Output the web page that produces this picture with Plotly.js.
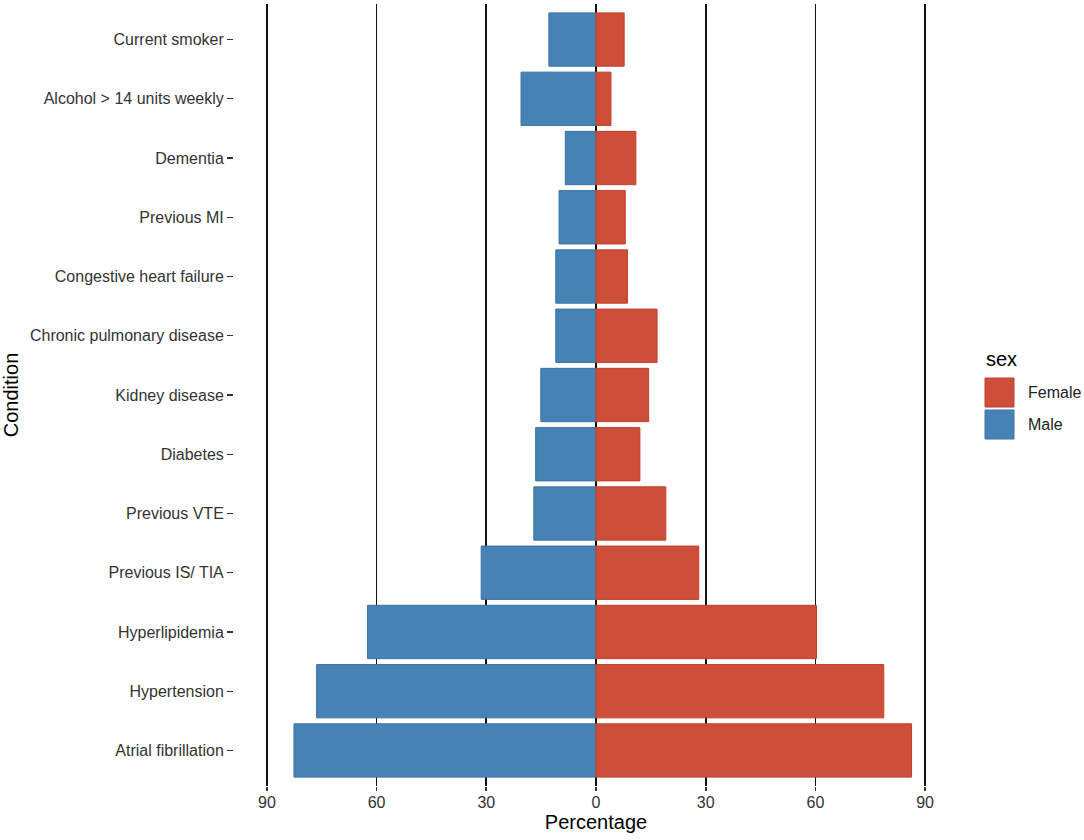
<!DOCTYPE html>
<html>
<head>
<meta charset="utf-8">
<script src="https://cdn.plot.ly/plotly-3.0.1.min.js"></script>
<style>
  html, body { margin: 0; padding: 0; background: #fff; }
  #chart { width: 1084px; height: 840px; }
</style>
</head>
<body>
<div id="chart"></div>
<script>
// conditions, listed top to bottom as in the figure
var conditions = [
  'Current smoker',
  'Alcohol > 14 units weekly',
  'Dementia',
  'Previous MI',
  'Congestive heart failure',
  'Chronic pulmonary disease',
  'Kidney disease',
  'Diabetes',
  'Previous VTE',
  'Previous IS/ TIA',
  'Hyperlipidemia',
  'Hypertension',
  'Atrial fibrillation'
];

// percentages
var femalePct = [7.7, 4.1, 10.9, 8.0, 8.6, 16.7, 14.4, 12.0, 19.1, 28.1, 60.3, 78.7, 86.3];
var malePct = [12.9, 20.5, 8.4, 10.1, 11.0, 11.0, 15.1, 16.5, 17.0, 31.4, 62.5, 76.4, 82.6];

var tickVals = [-90, -60, -30, 0, 30, 60, 90];
var tickText = ['90', '60', '30', '0', '30', '60', '90'];

var femaleColor = '#CD4F39';
var maleColor = '#4682B4';

function buildChart() {
  var female = {
    type: 'bar',
    orientation: 'h',
    name: 'Female',
    y: conditions,
    x: femalePct,
    width: 0.9,
    marker: { color: femaleColor, line: { color: '#C63F2B', width: 1 } },
    showlegend: false,
    hovertemplate: '%{y}: %{x}%<extra>Female</extra>'
  };

  var male = {
    type: 'bar',
    orientation: 'h',
    name: 'Male',
    y: conditions,
    // male side drawn to the left of zero
    x: malePct.map(function (v) { return -v; }),
    customdata: malePct,
    width: 0.9,
    marker: { color: maleColor, line: { color: '#3A72A8', width: 1 } },
    showlegend: false,
    hovertemplate: '%{y}: %{customdata}%<extra>Male</extra>'
  };

  // panel box in pixels, used to place the legend keys
  var L = 234, R = 126, T = 4, B = 54;
  var W = 1084 - L - R, H = 840 - T - B;
  function px(x) { return (x - L) / W; }
  function py(y) { return (840 - B - y) / H; }

  var keys = [
    { label: 'Female', color: femaleColor, line: '#C63F2B', top: 378, bottom: 407 },
    { label: 'Male', color: maleColor, line: '#3A72A8', top: 410, bottom: 439 }
  ];

  var shapes = keys.map(function (k) {
    return {
      type: 'rect', xref: 'paper', yref: 'paper',
      x0: px(985), x1: px(1014), y0: py(k.bottom), y1: py(k.top),
      fillcolor: k.color, line: { color: k.line, width: 1 }
    };
  });

  var annotations = [{
    xref: 'paper', yref: 'paper', x: px(984), y: py(359),
    xanchor: 'left', yanchor: 'middle', showarrow: false,
    text: 'sex', font: { size: 20, color: '#000' }
  }];
  keys.forEach(function (k) {
    annotations.push({
      xref: 'paper', yref: 'paper', x: px(1026), y: py((k.top + k.bottom) / 2),
      xanchor: 'left', yanchor: 'middle', showarrow: false,
      text: k.label, font: { size: 16, color: '#222' }
    });
  });

  var layout = {
    width: 1084,
    height: 840,
    margin: { l: L, r: R, t: T, b: B },
    paper_bgcolor: '#fff',
    plot_bgcolor: '#fff',
    barmode: 'relative',
    bargap: 0.1,
    font: { family: 'Liberation Sans, Arial, sans-serif', color: '#333' },
    xaxis: {
      range: [-99, 99],
      tickvals: tickVals,
      ticktext: tickText,
      showgrid: true,
      gridcolor: '#111',
      gridwidth: 1.6,
      zeroline: false,
      showline: false,
      ticks: 'outside',
      ticklen: 4,
      tickwidth: 1.6,
      tickcolor: '#333',
      ticklabelstandoff: -2,
      tickfont: { size: 16, color: '#333' },
      title: { text: 'Percentage', font: { size: 20, color: '#000' }, standoff: 2 }
    },
    yaxis: {
      type: 'category',
      range: [12.6, -0.6],
      showgrid: false,
      zeroline: false,
      showline: false,
      ticks: 'outside',
      ticklen: 6,
      tickwidth: 1.4,
      tickcolor: '#333',
      tickfont: { size: 16, color: '#333' },
      title: { text: 'Condition', font: { size: 20, color: '#000' }, standoff: 6 }
    },
    shapes: shapes,
    annotations: annotations
  };

  Plotly.newPlot('chart', [male, female], layout, { displayModeBar: false, staticPlot: true });
}

buildChart();
</script>
</body>
</html>
